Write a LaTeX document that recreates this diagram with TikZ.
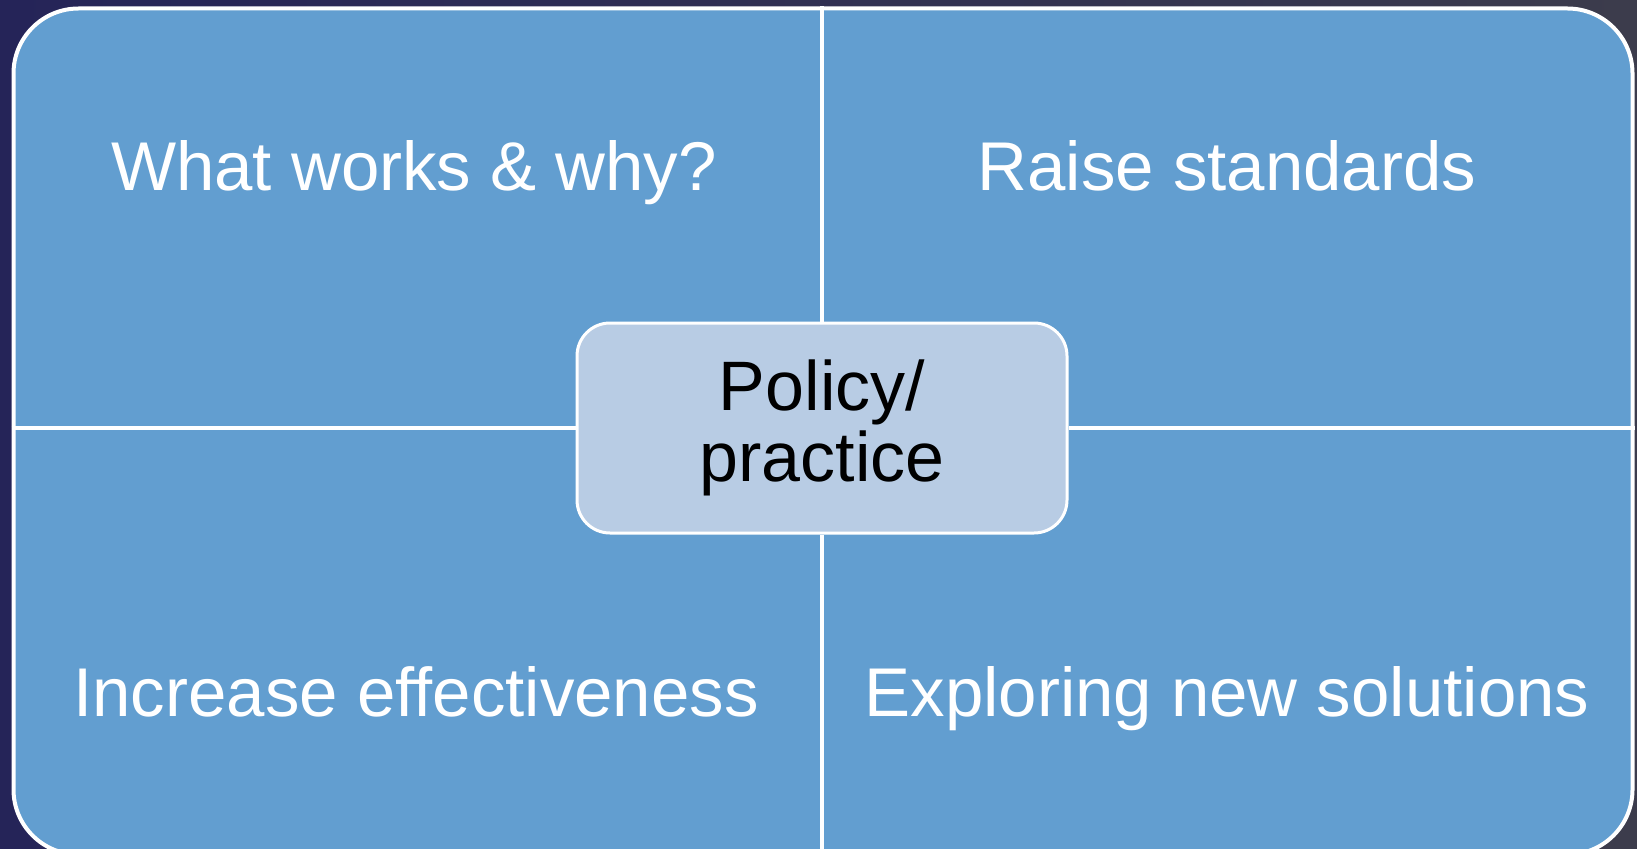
\documentclass[tikz,border=0pt]{standalone}
\usepackage{fontspec}
\setmainfont{Liberation Sans}
\definecolor{bgleft}{RGB}{37,36,88}
\definecolor{bgright}{RGB}{60,60,76}
\definecolor{quadfill}{RGB}{98,158,208}
\definecolor{centerfill}{RGB}{184,204,228}
\tikzset{
  quadtext/.style={text=white, anchor=base, inner sep=0pt, font=\fontsize{69}{69}\selectfont},
  divider/.style={draw=white, line width=3.5pt},
}
\begin{document}
\begin{tikzpicture}[x=1pt,y=-1pt]
\useasboundingbox (0,0) rectangle (1637,848);
\clip (0,0) rectangle (1637,848);
\shade[left color=bgleft, right color=bgright] (0,0) rectangle (1637,848);
\node[draw=white, line width=4pt, fill=quadfill, rounded corners=65pt, inner sep=0pt,
      minimum width=1619pt, minimum height=846pt, anchor=north west] (frame) at (11.5,6.5) {};
\node[draw=white, line width=3pt, fill=centerfill, rounded corners=33pt, inner sep=0pt,
      minimum width=490pt, minimum height=210pt, text=black, align=center,
      font=\fontsize{70}{71}\selectfont] (center) at (822,428) {Policy/\\practice};
\draw[divider] (frame.north -| center.north) -- (center.north);
\draw[divider] (center.south) -- (frame.south -| center.south);
\draw[divider] (frame.west |- center.west) -- (center.west);
\draw[divider] (center.east) -- (frame.east |- center.east);
\node[quadtext] (tl) at (414,190) {What works \& why?};
\node[quadtext] (tr) at (1227,190) {Raise standards};
\node[quadtext] (bl) at (416,716) {Increase effectiveness};
\node[quadtext] (br) at (1227,716) {Exploring new solutions};
\end{tikzpicture}
\end{document}
